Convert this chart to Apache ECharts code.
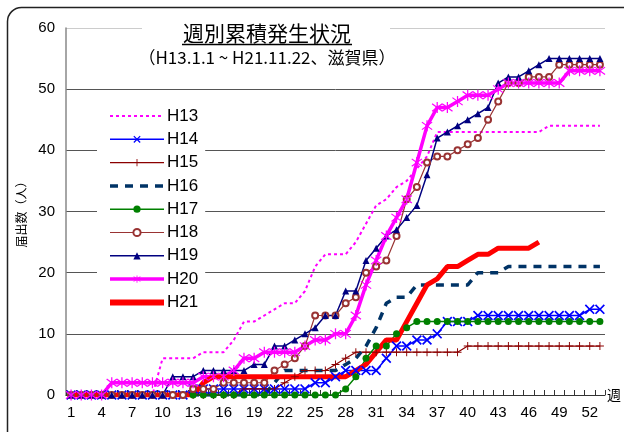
<!DOCTYPE html>
<html><head><meta charset="utf-8">
<script src="https://cdn.jsdelivr.net/npm/echarts@6/dist/echarts.min.js"></script>
<style>html,body{margin:0;padding:0;background:#fff}#c{width:624px;height:432px}</style>
</head><body><div id="c"></div>
<script>
const weeks = ['1','2','3','4','5','6','7','8','9','10','11','12','13','14','15','16','17','18','19','20','21','22','23','24','25','26','27','28','29','30','31','32','33','34','35','36','37','38','39','40','41','42','43','44','45','46','47','48','49','50','51','52','53'];
const yTicks = [0, 10, 20, 30, 40, 50, 60];
const seriesNames = ['H13','H14','H15','H16','H17','H18','H19','H20','H21'];

const H13 = [0,0,0,0,0,0,0,0,0,6,6,6,6,7,7,7,9,12,12,13,14,15,15,17,21,23,23,23,25,28,31,32,34,35,37,39,43,43,43,43,43,43,43,43,43,43,43,44,44,44,44,44,44];
const H14 = [0,0,0,0,0,0,0,0,0,0,0,0,1,1,1,1,1,1,1,1,1,1,1,1,2,2,3,4,4,4,4,6,8,8,9,9,10,12,12,12,13,13,13,13,13,13,13,13,13,13,13,14,14];
const H15 = [0,0,0,0,0,0,0,0,0,0,0,0,0,0,0,0,0,1,1,1,1,2,3,4,4,4,5,6,7,7,7,7,7,7,7,7,7,7,7,8,8,8,8,8,8,8,8,8,8,8,8,8,8];
const H16 = [0,0,0,0,0,0,0,0,0,0,0,0,0,0,0,0,0,0,0,0,2,4,4,4,4,4,4,5,6,8,11,15,16,16,18,18,18,18,18,18,20,20,20,21,21,21,21,21,21,21,21,21,21];
const H17 = [0,0,0,0,0,0,0,0,0,0,0,0,0,0,0,0,0,0,0,0,0,0,0,0,0,0,0,1,3,6,8,8,10,11,12,12,12,12,12,12,12,12,12,12,12,12,12,12,12,12,12,12,12];
const H18 = [0,0,0,0,0,0,0,0,0,0,0,0,1,1,1,2,2,2,2,2,4,5,6,8,13,13,13,15,16,20,21,22,26,32,34,38,39,39,40,41,42,45,48,51,51,52,52,52,54,54,54,54,54];
const H19 = [0,0,0,0,0,0,0,0,0,0,3,3,3,4,4,4,4,4,5,5,8,8,9,10,11,13,13,17,17,22,24,26,27,29,31,36,42,43,44,45,46,47,51,52,52,53,54,55,55,55,55,55,55];
const H20 = [0,0,0,0,2,2,2,2,2,2,2,2,2,3,3,3,4,6,6,7,7,7,7,8,9,9,10,10,13,18,22,26,29,32,38,44,47,47,48,49,49,49,50,51,51,51,51,51,51,53,53,53,53];
const H21 = [0,0,0,0,0,0,0,0,0,0,0,0,0,2,3,3,3,3,3,3,3,3,3,3,3,3,3,3,4,5,7,9,9,12,15,18,19,21,21,22,23,23,24,24,24,24,25,null,null,null,null,null,null];

const seriesValues = [H13,H14,H15,H16,H17,H18,H19,H20,H21];

const xMark = 'path://M0,1.2 L1.2,0 L5,3.8 L8.8,0 L10,1.2 L6.2,5 L10,8.8 L8.8,10 L5,6.2 L1.2,10 L0,8.8 L3.8,5 Z';
const plusMark = 'path://M4.4,0 H5.6 V4.4 H10 V5.6 H5.6 V10 H4.4 V5.6 H0 V4.4 H4.4 Z';
const starMark = 'path://M4.5,0 H5.5 V10 H4.5 Z M0.6,2.0 L1.2,1.2 L9.4,8.0 L8.8,8.8 Z M0.6,8.0 L8.8,1.2 L9.4,2.0 L1.2,8.8 Z';

const styles = {
  H13: {color:'#FF00FF', width:2, type:[3,3], symbol:'none', size:0},
  H14: {color:'#0000FF', width:1.5, type:'solid', symbol:xMark, size:10},
  H15: {color:'#8B0000', width:1.2, type:'solid', symbol:plusMark, size:8},
  H16: {color:'#003366', width:3.5, type:[8,7], symbol:'none', size:0},
  H17: {color:'#008000', width:1.5, type:'solid', symbol:'circle', size:7},
  H18: {color:'#993333', width:1.2, type:'solid', symbol:'emptyCircle', size:6},
  H19: {color:'#000080', width:1.5, type:'solid', symbol:'triangle', size:7},
  H20: {color:'#FF00FF', width:3.5, type:'solid', symbol:starMark, size:11},
  H21: {color:'#FF0000', width:5, type:'solid', symbol:'none', size:0}
};

const series = seriesNames.map((name, i) => {
  const s = styles[name];
  return {
    name: name,
    type: 'line',
    data: seriesValues[i],
    symbol: s.symbol,
    symbolSize: s.size,
    showSymbol: s.symbol !== 'none',
    showAllSymbol: true,
    connectNulls: false,
    lineStyle: {color: s.color, width: s.width, type: s.type},
    itemStyle: {color: s.color, borderColor: s.color, borderWidth: name === 'H18' ? 1.3 : 0},
    emphasis: {disabled: true},
    animation: false
  };
});

const legendData = seriesNames.map(name => {
  const s = styles[name];
  const item = {name: name, lineStyle: {width: name === 'H21' ? 6 : s.width, color: s.color, type: s.type}};
  if (s.symbol === 'none') item.itemStyle = {opacity: 0};
  return item;
});

const chart = echarts.init(document.getElementById('c'), null, {renderer: 'canvas'});
chart.setOption({
  backgroundColor: '#fff',
  animation: false,
  grid: {left: 66, right: 19, top: 28, bottom: 37, containLabel: false},
  legend: {
    data: legendData,
    orient: 'vertical',
    left: 97, top: 105,
    backgroundColor: '#fff',
    padding: [2, 7, 2, 10],
    itemGap: 5.3,
    itemWidth: 54,
    itemHeight: 9,
    textStyle: {fontSize: 17, lineHeight: 18, color: '#000', fontFamily: 'Liberation Sans', padding: [0, 0, 0, -2]}
  },
  xAxis: {
    type: 'category',
    data: weeks,
    boundaryGap: true,
    name: '週',
    nameLocation: 'end',
    nameGap: 2,
    nameTextStyle: {fontSize: 14, color: '#000', fontFamily: 'Noto Sans CJK JP', padding: [16, 0, 0, 0]},
    axisLine: {lineStyle: {color: '#333', width: 1}},
    axisTick: {show: true, inside: true, length: 5, interval: 0, lineStyle: {color: '#333'}},
    axisLabel: {interval: 2, fontSize: 15, color: '#000', margin: 10, fontFamily: 'Liberation Sans'},
    splitLine: {show: false}
  },
  yAxis: {
    type: 'value',
    min: yTicks[0], max: yTicks[yTicks.length - 1], interval: 10,
    name: '届出数（人）',
    nameLocation: 'middle',
    nameRotate: 90,
    nameGap: 38,
    nameTextStyle: {fontSize: 12, color: '#000', fontFamily: 'Noto Sans CJK JP'},
    axisLine: {show: true, lineStyle: {color: '#888', width: 1.5}},
    axisTick: {show: false},
    axisLabel: {fontSize: 15, color: '#000', margin: 11, fontFamily: 'Liberation Sans'},
    splitLine: {show: true, lineStyle: {color: ['#555','#555','#555','#555','#555','#555','#ccc'], width: 1}}
  },
  graphic: [
    {type: 'rect', z: 100, shape: {x: 7.5, y: 7.5, width: 640, height: 460, r: 14}, style: {fill: 'none', stroke: '#222', lineWidth: 1.5}, silent: true},
    {type: 'rect', z: 20, shape: {x: 142, y: 14, width: 248, height: 58}, style: {fill: '#fff'}, silent: true},
    {type: 'text', z: 21, x: 267, y: 33, style: {text: '週別累積発生状況', font: '21px "Noto Sans CJK JP"', fill: '#000', textAlign: 'center', textVerticalAlign: 'middle'}, silent: true},
    {type: 'line', z: 21, shape: {x1: 182, y1: 44.5, x2: 352, y2: 44.5}, style: {stroke: '#000', lineWidth: 1.5}, silent: true},
    {type: 'text', z: 21, x: 267, y: 58, style: {text: '（H13.1.1 ~ H21.11.22、滋賀県）', font: '17px "Noto Sans CJK JP"', fill: '#000', textAlign: 'center', textVerticalAlign: 'middle'}, silent: true}
  ],
  series: series
});
</script>
</body></html>
